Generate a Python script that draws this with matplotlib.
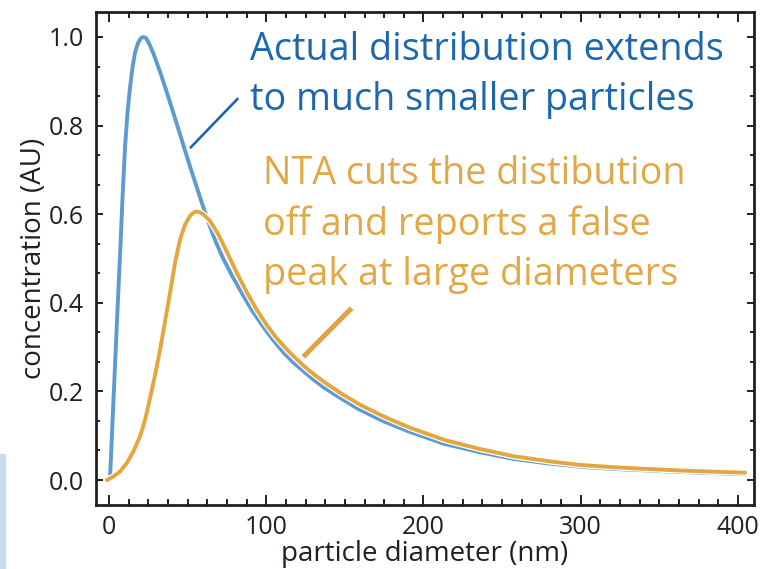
import matplotlib
matplotlib.use("Agg")
from matplotlib import pyplot as plt
from matplotlib import patheffects as pe
from matplotlib.patches import Rectangle
from matplotlib.ticker import MultipleLocator, AutoMinorLocator

plt.rcParams['font.family'] = ['Open Sans', 'DejaVu Sans']

# actual size distribution (blue curve)
actualD = [0.6, 2.2, 3.8, 5.4, 7.0, 8.6, 10.2, 11.8, 13.4, 14.9, 16.5, 18.4, 20.4, 21.8,
           23.5, 25.4, 28.2, 32.4, 36.7, 40.7, 45.2, 51.5, 57.9, 61.1, 64.2, 68.0, 72.2,
           78.1, 85.0, 90.9, 97.9, 103.9, 110.9, 117.0, 123.9, 129.9, 137.0, 145.3, 158.2,
           174.3, 190.3, 212.9, 235.5, 256.6, 280.3, 299.4, 320.5, 342.1, 363.1, 384.1, 404.5]
actualC = [0.000, 0.129, 0.257, 0.384, 0.506, 0.637, 0.752, 0.831, 0.887, 0.930, 0.964,
           0.986, 0.998, 1.000, 0.998, 0.986, 0.963, 0.922, 0.876, 0.831, 0.780, 0.708,
           0.638, 0.604, 0.572, 0.537, 0.503, 0.462, 0.419, 0.383, 0.347, 0.318, 0.288,
           0.266, 0.245, 0.227, 0.208, 0.189, 0.161, 0.133, 0.110, 0.082, 0.063, 0.048,
           0.037, 0.030, 0.025, 0.0215, 0.018, 0.0155, 0.013]

# what NTA reports (orange curve)
ntaD = [-1.3, 2.7, 7.0, 11.3, 15.3, 19.7, 22.9, 26.1, 29.3, 32.4, 35.6, 38.8, 42.0, 45.2,
        48.3, 51.5, 53.5, 55.8, 57.8, 59.8, 64.2, 69.3, 74.8, 80.8, 87.6, 93.5, 100.3,
        106.2, 113.0, 118.9, 125.7, 131.6, 138.6, 146.9, 159.6, 175.5, 191.4, 213.7,
        235.9, 256.9, 280.4, 299.5, 320.5, 342.1, 363.1, 384.1, 404.5]
ntaC = [0.000, 0.0075, 0.019, 0.038, 0.063, 0.098, 0.135, 0.185, 0.237, 0.293, 0.357,
        0.422, 0.490, 0.543, 0.576, 0.596, 0.603, 0.606, 0.6045, 0.600, 0.585, 0.556,
        0.516, 0.471, 0.424, 0.387, 0.350, 0.322, 0.295, 0.274, 0.252, 0.235, 0.217,
        0.197, 0.170, 0.142, 0.118, 0.090, 0.070, 0.054, 0.042, 0.034, 0.029, 0.025,
        0.0215, 0.0188, 0.0165]

xTicks = [0, 100, 200, 300, 400]
yTicks = [0.0, 0.2, 0.4, 0.6, 0.8, 1.0]

actualText = ["Actual distribution extends", "to much smaller particles"]
ntaText = ["NTA cuts the distibution", "off and reports a false", "peak at large diameters"]

blueLine = "#5b9bd0"
blueText = "#1b67b0"
orangeLine = "#e4a63e"
orangeText = "#e2a845"
ink = "#231f20"

fig = plt.figure(figsize=(7.6, 5.69), dpi=100)
ax = fig.add_axes([96/760, 1-504.5/569, 658/760, 492.5/569])

fig.patches.append(Rectangle((0, 0), 5/760, 115/569, transform=fig.transFigure,
                             color="#c6dcef", zorder=0))

ax.plot(actualD, actualC, color=blueLine, lw=2.8, solid_capstyle='round',
        solid_joinstyle='round', zorder=2)
ax.plot(ntaD, ntaC, color=orangeLine, lw=2.8, solid_capstyle='round',
        solid_joinstyle='round', zorder=3,
        path_effects=[pe.Stroke(linewidth=4.6, foreground='white'), pe.Normal()])

# pointer lines for the two notes
ax.plot([51.5, 82.2], [0.749, 0.862], color=blueText, lw=1.9, solid_capstyle='butt', zorder=4)
ax.plot([123.6, 154.3], [0.278, 0.388], color="#dca444", lw=3.6, solid_capstyle='butt', zorder=4)

for line, y in zip(actualText, [0.948, 0.835]):
    ax.text(89.7, y, line, color=blueText, fontsize=27.2, va='baseline', ha='left')
for line, y in zip(ntaText, [0.668, 0.553, 0.440]):
    ax.text(97.9, y, line, color=orangeText, fontsize=27.2, va='baseline', ha='left')

ax.set_xlim(-8.27, 410.2)
ax.set_ylim(-0.0553, 1.0564)
ax.set_xticks(xTicks)
ax.set_yticks(yTicks)
ax.set_yticklabels(["%.1f" % t for t in yTicks])
ax.xaxis.set_minor_locator(MultipleLocator(12.5))
ax.yaxis.set_minor_locator(AutoMinorLocator(3))

ax.tick_params(which='both', direction='in', top=True, right=True, color=ink,
               width=1.4, labelsize=18, labelcolor=ink)
ax.tick_params(axis='x', which='major', length=7.2, pad=7.5)
ax.tick_params(axis='x', which='minor', length=4.3)
ax.tick_params(axis='y', which='major', length=4.8, pad=9)
ax.tick_params(axis='y', which='minor', length=3.2)
for s in ax.spines.values():
    s.set_linewidth(2.0)
    s.set_color(ink)

ax.set_xlabel("particle diameter (nm)", fontsize=20, color=ink, labelpad=0)
ax.set_ylabel("concentration (AU)", fontsize=20, color=ink, labelpad=0)

fig.savefig("out.png", dpi=100)
